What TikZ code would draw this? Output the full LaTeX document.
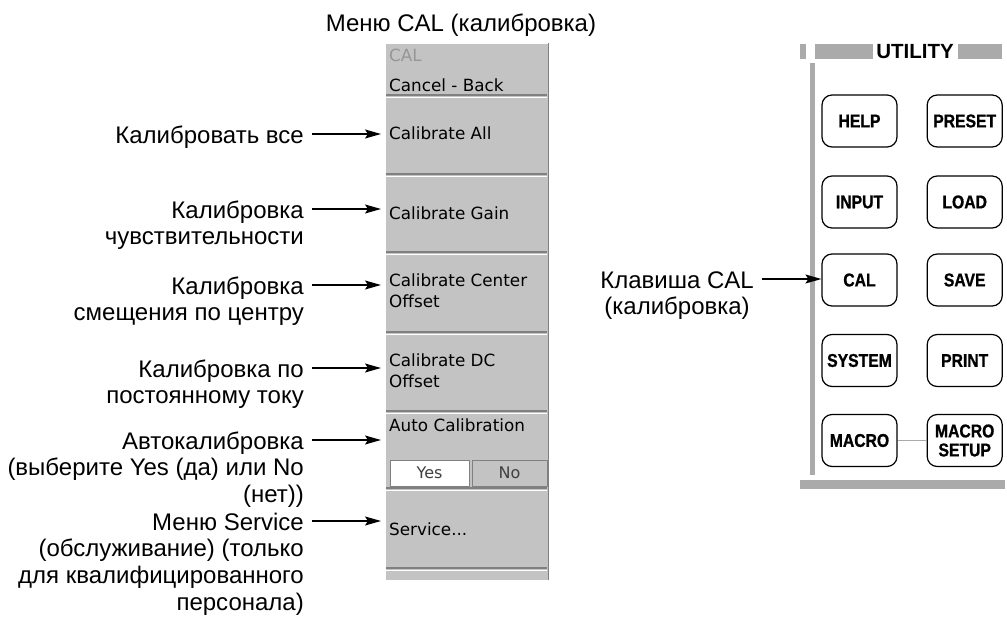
\documentclass[tikz,border=0pt]{standalone}
\usepackage{fontspec}
\setmainfont{Liberation Sans}
\newfontfamily\menufont{DejaVu Sans}
\newfontfamily\keyfont[FakeStretch=0.85,FakeBold=1]{Liberation Sans}
\usetikzlibrary{arrows.meta,positioning}
\definecolor{menugray}{RGB}{195,195,195}
\definecolor{menudark}{RGB}{128,128,128}
\definecolor{menutop}{RGB}{150,150,150}
\definecolor{panelgray}{RGB}{170,170,170}
\tikzset{
	lbl/.style={inner xsep=1pt,inner ysep=1.75pt,text height=20.5pt,text depth=2.5pt,font=\fontsize{24}{26.5}\selectfont},
	lblR/.style={lbl,anchor=north east},
	arr/.style={-{Stealth[length=16pt,width=9pt,inset=3pt]},line width=1.4pt,shorten <=7pt,shorten >=5pt},
	mtext/.style={anchor=west,inner sep=1pt,align=left,font=\menufont\fontsize{16.8}{21}\selectfont},
	yesno/.style={draw=menudark,line width=1pt,minimum height=26pt,inner sep=0pt,text=black!75,font=\menufont\fontsize{16}{18}\selectfont},
	key/.style={draw,line width=1.2pt,rounded corners=10pt,minimum width=75pt,minimum height=52pt,inner sep=1pt,align=center,font=\keyfont\bfseries\fontsize{18.5}{19}\selectfont}
}
\begin{document}
\begin{tikzpicture}[x=1pt,y=-1pt,line join=round]
	\useasboundingbox (0,0) rectangle (1007,616);
	
	% menu CAL
	\node[lbl] (title) at (461,22) {Меню CAL (калибровка)};
	\node[fill=menugray,minimum width=162pt,minimum height=537pt,inner sep=0pt,anchor=north west] (menu) at (386,43) {};
	\draw[white,line width=1pt] (menu.north west) -- (menu.north east);
	\draw[menudark,line width=1.5pt] (menu.north east) -- (menu.south east);
	\foreach \s in {95,174,252,332,411,488,568}{
		\draw[menudark,line width=2pt] (386,\s) -- (547,\s);
		\draw[white,line width=1pt] (386,\s+2) -- (547,\s+2);
	}
	\node[mtext,text=menutop] (mTop) at (388,55) {CAL};
	\node[mtext] (mBack) at (388,85) {Cancel - Back};
	\node[mtext] (mAll) at (388,133) {Calibrate All};
	\node[mtext] (mGain) at (388,213) {Calibrate Gain};
	\node[mtext] (mCenter) at (388,290.5) {Calibrate Center\\Offset};
	\node[mtext] (mDC) at (388,371) {Calibrate DC\\Offset};
	\node[mtext] (mAuto) at (388,425) {Auto Calibration};
	\node[yesno,fill=white,minimum width=79pt] (yes) at (429.5,473) {Yes};
	\node[yesno,minimum width=75pt,right=2pt of yes] (no) {No};
	\node[mtext] (mSvc) at (388,529) {Service...};
	
	% подписи слева
	\node[lbl,anchor=east] (lAll) at (305,134) {Калибровать все};
	\node[lbl,anchor=east] (lGain) at (305,209) {Калибровка};
	\node[lblR] (lGainB) at (lGain.south east) {чувствительности};
	\node[lbl,anchor=east] (lCenter) at (305,285) {Калибровка};
	\node[lblR] (lCenterB) at (lCenter.south east) {смещения по центру};
	\node[lbl,anchor=east] (lDC) at (305,368) {Калибровка по};
	\node[lblR] (lDCB) at (lDC.south east) {постоянному току};
	\node[lbl,anchor=east] (lAuto) at (305,440) {Автокалибровка};
	\node[lblR] (lAutoB) at (lAuto.south east) {(выберите Yes (да) или No};
	\node[lblR] (lAutoC) at (lAutoB.south east) {(нет))};
	\node[lbl,anchor=east] (lSvc) at (305,521) {Меню Service};
	\node[lblR] (lSvcB) at (lSvc.south east) {(обслуживание) (только};
	\node[lblR] (lSvcC) at (lSvcB.south east) {для квалифицированного};
	\node[lblR] (lSvcD) at (lSvcC.south east) {персонала)};
	\foreach \l in {lAll,lGain,lCenter,lDC,lAuto,lSvc}
		\draw[arr] (\l.east) -- (\l.east -| menu.west);
	
	% панель UTILITY
	\fill[panelgray] (800,44) rectangle (806,59);
	\fill[panelgray] (815,44) rectangle (873,59);
	\node[inner sep=0pt,font=\bfseries\fontsize{20.5}{21}\selectfont] (util) at (915,51.5) {UTILITY};
	\fill[panelgray] (958,44) rectangle (1002,59);
	\fill[panelgray] (810,63) rectangle (815,475);
	\fill[panelgray] (800,480) rectangle (1005,489);
	\node[key] (help) at (859.5,121) {HELP};
	\node[key,right=29pt of help] (preset) {PRESET};
	\node[key] (input) at (859.5,202) {INPUT};
	\node[key,right=29pt of input] (load) {LOAD};
	\node[key] (cal) at (859.5,280) {CAL};
	\node[key,right=29pt of cal] (save) {SAVE};
	\node[key] (system) at (859.5,360.5) {SYSTEM};
	\node[key,right=29pt of system] (print) {PRINT};
	\node[key] (macro) at (859.5,440.5) {MACRO};
	\node[key,right=29pt of macro] (msetup) {MACRO\\SETUP};
	\draw[panelgray,line width=1.5pt] (macro) -- (msetup);
	
	\node[lbl,anchor=east] (lCal) at (755,279) {Клавиша CAL};
	\node[lbl,anchor=north] (lCalB) at (lCal.south) {(калибровка)};
	\draw[arr,shorten >=0pt] (lCal.east) -- (lCal.east -| cal.west);
\end{tikzpicture}
\end{document}
